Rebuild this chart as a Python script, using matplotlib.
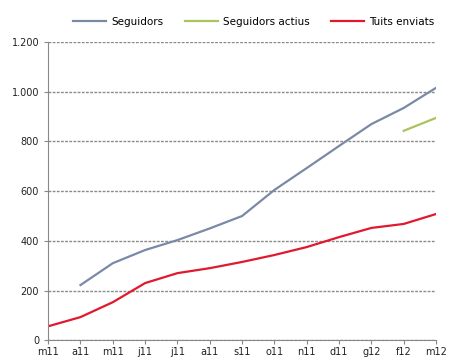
import matplotlib
matplotlib.use("Agg")
import matplotlib.pyplot as plt
import numpy as np

# monthly labels, March 2011 to March 2012
mesos = ["m11", "a11", "m11", "j11", "j11", "a11", "s11", "o11",
         "n11", "d11", "g12", "f12", "m12"]

seguidors = [None, 222, 310, 363, 403, 450, 500, 605, 693, 782, 870, 935, 1016]
actius = [None] * 11 + [843, 895]
tuits = [56, 93, 153, 230, 270, 290, 315, 343, 375, 415, 452, 468, 508]

x = np.arange(len(mesos))


def serie(vals):
    return np.array([np.nan if v is None else v for v in vals], dtype=float)


fig = plt.figure(figsize=(4.5, 3.6), dpi=100)
ax = fig.add_axes([0.107, 0.055, 0.862, 0.828])

ax.plot(x, serie(seguidors), color="#7a8aa6", lw=1.6, label="Seguidors")
ax.plot(x, serie(actius), color="#a9c45a", lw=1.6, label="Seguidors actius")
ax.plot(x, serie(tuits), color="#e0192f", lw=1.6, label="Tuits enviats")

ax.set_xlim(0, len(mesos) - 1)
ax.set_ylim(0, 1200)
ax.set_yticks(range(0, 1201, 200))
ax.set_yticklabels(["0", "200", "400", "600", "800", "1.000", "1.200"])
ax.set_xticks(x)
ax.set_xticklabels(mesos)

ax.yaxis.grid(True, color="#8a8a8a", ls=(0, (2, 1)), lw=1.0)
ax.set_axisbelow(True)
for s in ["top", "right"]:
    ax.spines[s].set_visible(False)
for s in ["left", "bottom"]:
    ax.spines[s].set_color("#888888")
ax.tick_params(axis="both", labelsize=7, colors="#888888", labelcolor="#222222",
               length=3)
ax.tick_params(axis="x", pad=2)

ax.legend(loc="lower center", bbox_to_anchor=(0.53, 1.02), ncol=3, frameon=False,
          fontsize=7.5, handlelength=3.2, columnspacing=2.0, handletextpad=0.5)

fig.savefig("out.png", dpi=100)
